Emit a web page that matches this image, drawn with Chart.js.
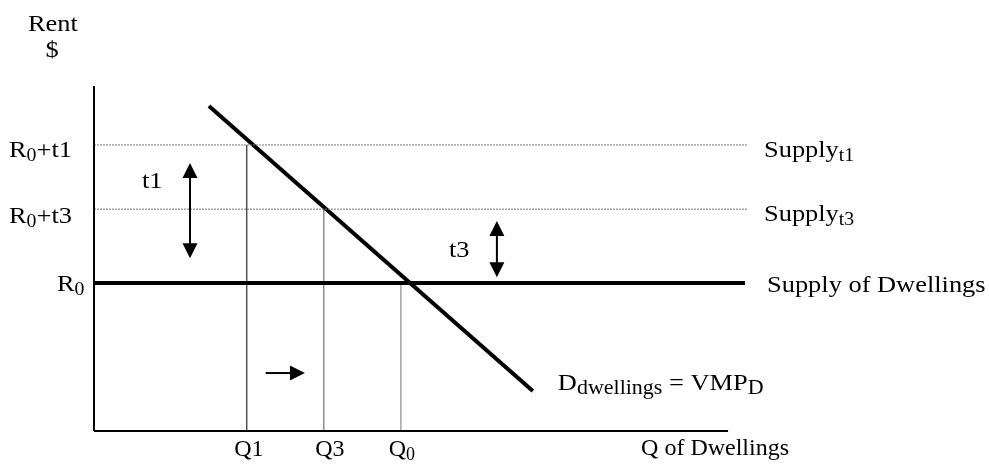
<!DOCTYPE html>
<html><head><meta charset="utf-8">
<style>html,body{margin:0;padding:0;background:#fff;}#wrap{width:989px;height:464px;}</style>
<script src="https://cdn.jsdelivr.net/npm/chart.js@4.4.0/dist/chart.umd.min.js"></script>
</head><body><div id="wrap"><canvas id="c" width="989" height="464"></canvas></div>
<script>
// ---- data (Q of dwellings on x, rent on y; arbitrary 0-100 units) ----
const qAxisMax = 97.1;
const rentAxisMax = 100;
const rentLevels = [42.9, 64.3, 82.9];          // R0, R0+t3, R0+t1
const rentTickLabels = ["R0", "R0+t3", "R0+t1"];
const supplyEnds = [99.7, 100, 100];
const supplyLabels = ["Supply of Dwellings", "Supply t3", "Supply t1"];
const qLevels = [23.4, 35.2, 47.0];             // Q1, Q3, Q0
const qLevelRents = [82.9, 64.3, 42.9];
const qTickLabels = ["Q1", "Q3", "Q0"];
const demandQ = [17.6, 67.2];
const demandRent = [94.2, 11.6];
const taxArrowQ = [14.7, 61.7];                 // t1, t3
const taxArrowTop = [77.7, 60.9];
const taxArrowBottom = [50.1, 44.6];
const shiftArrowQ = [26.3, 32.3];
const shiftArrowRent = [16.8, 16.8];

const FONT = '"Liberation Serif","Times New Roman",serif';
const MAIN = 24, SUBDY = 4;

function seg(x1, y1, x2, y2, color, width, dash) {
  return { data: [{x:x1,y:y1},{x:x2,y:y2}], showLine: true, borderColor: color,
    borderWidth: width, borderDash: dash || [], pointRadius: 0, clip: false, fill: false };
}
const datasets = [];
datasets.push(seg(0, 0, 0, rentAxisMax, '#000', 2));
datasets.push(seg(0, 0, qAxisMax, 0, '#000', 2));
datasets.push(seg(0, rentLevels[0], supplyEnds[0], rentLevels[0], '#000', 4));
datasets.push(seg(0, rentLevels[1], supplyEnds[1], rentLevels[1], '#777', 1, [2, 1]));
datasets.push(seg(0, rentLevels[2], supplyEnds[2], rentLevels[2], '#777', 1, [2, 1]));
const qColors = ['#000', '#555', '#777'];
qLevels.forEach((q, i) => datasets.push(seg(q, 0, q, qLevelRents[i], qColors[i], 1)));
datasets.push(seg(demandQ[0], demandRent[0], demandQ[1], demandRent[1], '#000', 4));

function rich(ctx, x, y, runs, align, sx, sub) {
  sx = sx || 1.1; sub = sub || 18;
  ctx.save();
  let w = 0;
  runs.forEach(r => { ctx.font = (r[1] ? sub : MAIN) + 'px ' + FONT; w += ctx.measureText(r[0]).width; });
  ctx.translate(x, y); ctx.scale(sx, 1);
  let cx = align === 'center' ? -w / 2 : align === 'right' ? -w : 0;
  ctx.fillStyle = '#000'; ctx.textBaseline = 'alphabetic'; ctx.textAlign = 'left';
  runs.forEach(r => {
    ctx.font = (r[1] ? sub : MAIN) + 'px ' + FONT;
    ctx.fillText(r[0], cx, r[1] ? SUBDY : 0);
    cx += ctx.measureText(r[0]).width;
  });
  ctx.restore();
}
function arrowHead(ctx, tx, ty, dx, dy, len, half) {
  const px = -dy, py = dx;
  ctx.beginPath();
  ctx.moveTo(tx, ty);
  ctx.lineTo(tx - dx * len + px * half, ty - dy * len + py * half);
  ctx.lineTo(tx - dx * len - px * half, ty - dy * len - py * half);
  ctx.closePath(); ctx.fill();
}
function arrow(ctx, x1, y1, x2, y2, both) {
  const L = Math.hypot(x2 - x1, y2 - y1), dx = (x2 - x1) / L, dy = (y2 - y1) / L;
  const len = 15, half = 7.5;
  ctx.beginPath();
  ctx.moveTo(both ? x1 + dx * len * 0.8 : x1, both ? y1 + dy * len * 0.8 : y1);
  ctx.lineTo(x2 - dx * len * 0.8, y2 - dy * len * 0.8);
  ctx.stroke();
  arrowHead(ctx, x2, y2, dx, dy, len, half);
  if (both) arrowHead(ctx, x1, y1, -dx, -dy, len, half);
}

const annot = {
  id: 'annot',
  afterDatasetsDraw(chart) {
    const ctx = chart.ctx, xs = chart.scales.x, ys = chart.scales.y;
    const X = v => xs.getPixelForValue(v), Y = v => ys.getPixelForValue(v);
    ctx.save();
    ctx.fillStyle = '#000'; ctx.strokeStyle = '#000'; ctx.lineWidth = 2;
    for (let i = 0; i < taxArrowQ.length; i++)
      arrow(ctx, X(taxArrowQ[i]), Y(taxArrowTop[i]), X(taxArrowQ[i]), Y(taxArrowBottom[i]), true);
    arrow(ctx, X(shiftArrowQ[0]), Y(shiftArrowRent[0]), X(shiftArrowQ[1]), Y(shiftArrowRent[1]), false);
    ctx.restore();

    const ax = X(0);
    rich(ctx, ax - 66, Y(rentAxisMax) - 55, [["Rent"]]);
    rich(ctx, ax - 42, Y(rentAxisMax) - 29, [["$"]], 'center');
    // rent tick labels
    rich(ctx, ax - 85, Y(rentLevels[2]) + 12, [["R"], ["0", 1], ["+t1"]]);
    rich(ctx, ax - 85, Y(rentLevels[1]) + 14, [["R"], ["0", 1], ["+t3"]]);
    rich(ctx, ax - 37, Y(rentLevels[0]) + 8, [["R"], ["0", 1]]);
    // tax labels
    rich(ctx, X(taxArrowQ[0]) - 48, Y(taxArrowTop[0]) + 25, [["t1"]]);
    rich(ctx, X(taxArrowQ[1]) - 48, Y(taxArrowTop[1]) + 36, [["t3"]]);
    // supply labels
    rich(ctx, X(supplyEnds[2]) + 17, Y(rentLevels[2]) + 12, [["Supply"], ["t1", 1]]);
    rich(ctx, X(supplyEnds[1]) + 17, Y(rentLevels[1]) + 12, [["Supply"], ["t3", 1]]);
    rich(ctx, X(supplyEnds[0]) + 22, Y(rentLevels[0]) + 9, [[supplyLabels[0]]]);
    // demand label
    rich(ctx, X(demandQ[1]) + 25, Y(demandRent[1]) - 1, [["D"], ["dwellings", 1], [" = VMP"], ["D", 1]], 'left', 1.1, 20);
    // Q labels
    const by = Y(0) + 25;
    rich(ctx, X(qLevels[0]) + 2, by, [["Q1"]], 'center', 1);
    rich(ctx, X(qLevels[1]) + 6, by, [["Q3"]], 'center', 1);
    rich(ctx, X(qLevels[2]) + 1, by, [["Q"], ["0", 1]], 'center', 1);
    rich(ctx, X(qAxisMax) - 87, by - 1, [["Q of Dwellings"]], 'left', 1);
  }
};

new Chart(document.getElementById('c'), {
  type: 'scatter',
  data: { datasets },
  options: {
    responsive: false, animation: false, events: [],
    layout: { padding: { left: 94, right: 242, top: 86, bottom: 33 } },
    plugins: { legend: { display: false }, tooltip: { enabled: false } },
    scales: {
      x: { type: 'linear', min: 0, max: 100, display: false },
      y: { type: 'linear', min: 0, max: 100, display: false }
    }
  },
  plugins: [annot]
});
</script></body></html>
